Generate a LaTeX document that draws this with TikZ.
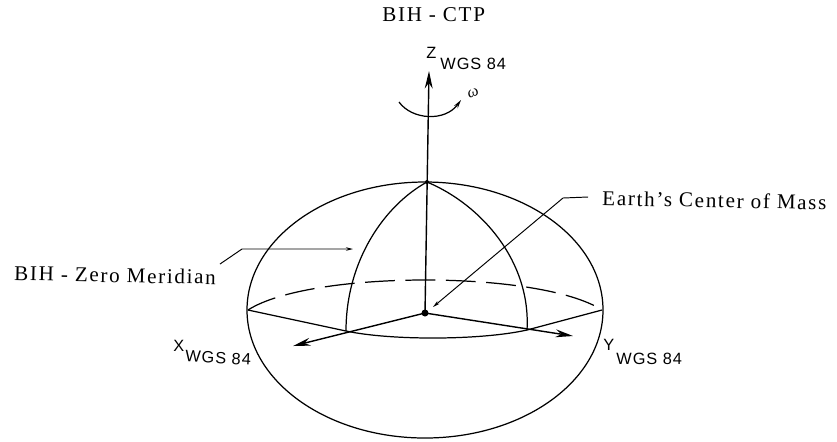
\documentclass[tikz,border=0pt]{standalone}
\usepackage{fontspec}
\setmainfont[LetterSpace=8]{Liberation Serif}
\setsansfont[LetterSpace=6]{Liberation Sans}
\usetikzlibrary{arrows.meta}
\begin{document}
\begin{tikzpicture}[x=0.02cm, y=-0.02cm, font=\fontsize{12}{14}\selectfont,
  label/.style={inner sep=0pt, anchor=west},
  sub/.style={inner sep=0pt, anchor=west, font=\sffamily\fontsize{9.3}{11}\selectfont},
  line/.style={line width=0.7pt},
  axis/.style={line width=0.8pt, -{Stealth[length=10pt, width=4.5pt]}},
  lead/.style={line width=0.55pt, -{Stealth[length=4pt, width=2pt]}}
]
  \useasboundingbox (0, 0) rectangle (837, 441);
  % the ellipsoid
  \draw[line] (425, 310) ellipse [x radius=178, y radius=128];
  \coordinate (center) at (425, 313);
  \coordinate (pole) at (427, 182);
  \coordinate (east) at (248, 310);
  \coordinate (west) at (602, 310);
  \coordinate (xfoot) at (346, 331);
  \coordinate (yfoot) at (527, 330);
  \coordinate (ztip) at (429, 71);
  \coordinate (xtip) at (293, 346);
  \coordinate (ytip) at (573, 336);
  \fill (center) circle (3.5);
  \fill (pole) circle (2);
  % equator and meridians
  \draw[line, dash pattern=on 17pt off 6pt] (east) .. controls (310, 270) and (540, 270) .. (west);
  \draw[line] (east) -- (xfoot) .. controls (390, 340.5) and (480, 340.5) .. (yfoot) -- (west);
  \draw[line] (pole) .. controls (385, 205) and (346, 260) .. (xfoot);
  \draw[line] (pole) .. controls (482, 205) and (531, 262) .. (yfoot);
  % axes
  \draw[axis] (center) -- (ztip);
  \draw[axis] (center) -- (xtip);
  \draw[axis] (center) -- (ytip);
  % rotation
  \coordinate (rotstart) at (399, 102);
  \coordinate (rotend) at (461, 100);
  \draw[line, -{Stealth[length=5pt, width=2.5pt]}] (rotstart) .. controls (412, 120) and (445, 122) .. (rotend);
  \node[inner sep=0pt, rotate=20] (omega) at (473, 93) {\fontspec{Liberation Serif}\itshape\small ω};
  % texts
  \node[label] (ctp) at (382, 15) {BIH - CTP};
  \node[sub] (zname) at (426, 53) {Z};
  \node[sub] (zsub) at (440, 64) {WGS 84};
  \node[label, rotate=-1.2] (mass) at (602, 198) {Earth's Center of Mass};
  \node[label, rotate=-1.2] (zero) at (14, 273) {BIH - Zero Meridian};
  \node[sub] (xname) at (173, 346) {X};
  \node[sub, rotate=-3] (xsub) at (185, 356) {WGS 84};
  \node[sub] (yname) at (603, 345) {Y};
  \node[sub] (ysub) at (616, 359) {WGS 84};
  % leaders
  \coordinate (massstart) at (588, 197);
  \coordinate (massbend) at (563, 198);
  \coordinate (masstip) at (433, 307);
  \coordinate (zerostart) at (220, 264);
  \coordinate (zerobend) at (242, 249);
  \coordinate (zerotip) at (353, 249);
  \draw[lead] (massstart) -- (massbend) -- (masstip);
  \draw[lead] (zerostart) -- (zerobend) -- (zerotip);
\end{tikzpicture}
\end{document}
